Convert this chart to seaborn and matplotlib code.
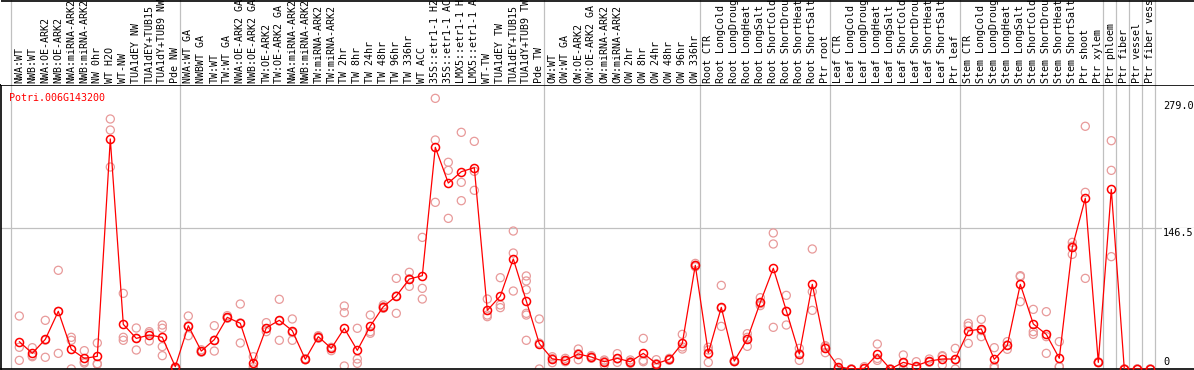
import matplotlib
matplotlib.use("Agg")
import matplotlib.pyplot as plt
import numpy as np
import pandas as pd
import seaborn as sns

# sample labels, in plot order
samples = [
    "NWA:WT", "NWB:WT", "NWA:OE-ARK2", "NWB:OE-ARK2", "NWA:miRNA-ARK2",
    "NWB:miRNA-ARK2", "NW 0hr", "WT H2O", "WT-NW", "TUA1dEY NW",
    "TUA1dEY+TUB15", "TUA1dY+TUB9 NW", "Pde NW",
    "NWA:WT GA", "NWBWT GA", "TW:WT", "TW:WT GA", "NWA:OE-ARK2 GA",
    "NWB:OE-ARK2 GA", "TW:OE-ARK2", "TW:OE-ARK2 GA", "NWA:miRNA-ARK2",
    "NWB:miRNA-ARK2", "TW:miRNA-ARK2", "TW:miRNA-ARK2", "TW 2hr", "TW 8hr",
    "TW 24hr", "TW 48hr", "TW 96hr", "TW 336hr", "WT ACC", "35S::etr1-1 H2",
    "35S::etr1-1 AC", "LMX5::etr1-1 H", "LMX5::etr1-1 A", "WT-TW",
    "TUA1dEY TW", "TUA1dEY+TUB15", "TUA1dY+TUB9 TW", "Pde TW",
    "OW:WT", "OW:WT GA", "OW:OE-ARK2", "OW:OE-ARK2 GA", "OW:miRNA-ARK2",
    "OW:miRNA-ARK2", "OW 2hr", "OW 8hr", "OW 24hr", "OW 48hr", "OW 96hr",
    "OW 336hr",
    "Root CTR", "Root LongCold", "Root LongDroug", "Root LongHeat",
    "Root LongSalt", "Root ShortCold", "Root ShortDrou", "Root ShortHeat",
    "Root ShortSalt", "Ptr root",
    "Leaf CTR", "Leaf LongCold", "Leaf LongDroug", "Leaf LongHeat",
    "Leaf LongSalt", "Leaf ShortCold", "Leaf ShortDrou", "Leaf ShortHeat",
    "Leaf ShortSalt", "Ptr leaf",
    "Stem CTR", "Stem LongCold", "Stem LongDroug", "Stem LongHeat",
    "Stem LongSalt", "Stem ShortCold", "Stem ShortDrou", "Stem ShortHeat",
    "Stem ShortSalt", "Ptr shoot", "Ptr xylem",
    "Ptr phloem", "Ptr fiber", "Ptr vessel", "Ptr fiber vess",
]

# group sizes (gray separators between groups)
group_sizes = [13, 28, 12, 10, 10, 11, 1, 1, 1, 1]

# mean expression
means = [
    28.5, 16.3, 30.9, 60.1, 20.5, 11.1, 13.2, 239.6, 46.5, 31.9, 35.4, 33.0, 2.4,
    45.1, 18.7, 30.6, 53.8, 47.6, 6.2, 43.0, 50.7, 39.9, 10.1, 33.7, 21.5, 42.4,
    19.4, 44.8, 64.9, 76.0, 93.7, 97.2, 230.9, 193.7, 205.5, 209.7, 61.1, 76.0,
    114.6, 70.8, 26.4,
    10.4, 9.0, 15.6, 12.5, 7.6, 11.1, 7.6, 16.3, 5.6, 10.1, 26.7, 108.0,
    16.7, 64.2, 8.3, 31.2, 69.4, 104.9, 60.8, 15.6, 88.2, 21.5,
    2.4, 0.0, 0.7, 15.3, 0.0, 6.9, 3.5, 8.3, 10.4, 10.4,
    39.6, 41.7, 10.1, 24.7, 88.2, 46.9, 36.1, 11.1, 126.7, 177.8, 6.9,
    187.1, 0.0, 0.0, 0.0,
]

# replicate values per sample
replicates = [
    [55.2, 22.6, 9.0], [22.2, 13.9, 12.8], [50.7, 12.2, 30.0], [102.8, 16.3, 60.0],
    [33.0, 29.9, 0.0], [19.1, 7.6, 6.2], [27.1, 5.6, 4.9], [260.4, 248.9, 210.4],
    [78.8, 33.0, 29.9], [42.7, 19.8, 32.0], [38.9, 29.2, 37.2],
    [45.8, 42.4, 23.3, 13.9], [2.0, 1.0, 0.0],
    [55.2, 34.7, 45.0], [20.0, 18.0, 17.5], [45.1, 18.7, 30.0], [55.6, 52.8, 53.5],
    [67.7, 27.1, 48.0], [12.8, 2.4, 0.0], [48.3, 38.9, 42.0], [72.6, 29.9, 50.0],
    [52.1, 29.9, 38.0], [10.1, 9.5, 10.8], [34.7, 32.0, 34.0], [22.6, 19.1, 22.0],
    [65.6, 58.7, 3.1], [42.4, 10.4, 5.9], [56.2, 38.9, 37.2], [64.9, 63.2, 66.7],
    [94.4, 58.0, 76.0], [100.7, 86.1, 94.0], [137.1, 84.0, 72.9],
    [281.9, 238.5, 173.6], [215.3, 206.9, 156.9], [246.5, 194.4, 175.3],
    [237.1, 186.1, 205.9], [72.9, 56.2, 54.5], [95.1, 66.7, 63.9],
    [143.7, 120.8, 81.2], [96.9, 91.7, 82.6, 58.0, 56.2, 29.9], [52.1, 0.0, 27.0],
    [12.8, 6.6, 11.0], [11.1, 7.6, 9.0], [20.8, 9.7, 16.0], [13.9, 11.1, 12.5],
    [9.4, 4.2, 8.0], [16.0, 6.9, 10.5], [9.4, 5.9, 7.6], [31.9, 9.0, 7.6],
    [9.7, 1.4, 5.6], [11.1, 9.0, 10.1], [36.1, 20.8, 23.0], [110.0, 106.5, 108.0],
    [22.6, 6.9, 19.8], [87.1, 63.2, 44.4], [8.3, 7.5, 9.0], [36.8, 23.6, 33.0],
    [74.3, 66.0, 68.0], [141.7, 130.2, 43.4], [76.7, 45.8, 60.0], [21.5, 9.0, 16.0],
    [125.0, 80.5, 61.1], [24.3, 17.0, 23.0],
    [6.6, 0.5, 0.0], [0.0, 0.0, 0.0], [2.4, 0.0, 0.0], [26.0, 9.0, 11.0],
    [0.0, 0.0, 0.0], [14.6, 0.0, 6.0], [7.6, 1.5, 1.5], [10.4, 7.0, 7.5],
    [13.9, 4.2, 13.0], [21.5, 0.0, 9.5],
    [47.6, 44.8, 26.7], [51.7, 33.7, 40.0], [22.2, 3.1, 1.0], [28.5, 20.5, 25.0],
    [97.2, 96.2, 70.1], [62.1, 38.9, 36.1], [59.7, 33.7, 16.3], [28.5, 2.4, 2.4],
    [131.9, 119.4, 128.0], [252.8, 184.0, 94.4], [7.5, 6.5, 6.9],
    [237.8, 206.9, 117.0], [0.0, 0.0, 0.0], [0.0, 0.0, 0.0], [0.0, 0.0, 0.0],
]

gene = "Potri.006G143200"
y_ticks = [279.0, 146.5, 0]

n = len(samples)
df_mean = pd.DataFrame({"pos": np.arange(n), "value": means})
df_rep = pd.DataFrame(
    [(i, v) for i, reps in enumerate(replicates) for v in reps],
    columns=["pos", "value"],
)

sns.set_style("white")
plt.rcParams["font.family"] = ["DejaVu Sans Mono"]

W, H = 1194, 370
fig = plt.figure(figsize=(W / 100, H / 100), dpi=100)
top_px = 85
ax = fig.add_axes([1 / W, 1 / H, (W - 1) / W, (H - 1 - top_px) / H])
hax = fig.add_axes([1 / W, (H - top_px) / H, (W - 1) / W, top_px / H], sharex=ax)

x0, step = 19.3, 13.0  # pixel of first column centre, column spacing
xlim = ((1 - x0) / step, (W - x0) / step)
ax.set_xlim(xlim)
ax.set_ylim(0, 295.8)

grey = "#c0c0c0"
bounds = np.concatenate([[0], np.cumsum(group_sizes)]) - 0.66
for b in bounds:
    ax.axvline(b, color=grey, lw=0.9, zorder=0)
    hax.axvline(b, color=grey, lw=0.9, zorder=0)
ax.axhline(146.5, color=grey, lw=0.9, zorder=0)

sns.scatterplot(data=df_rep, x="pos", y="value", ax=ax, marker="o",
                facecolor="none", edgecolor="#e89a9a", s=34, linewidth=0.9,
                zorder=2, legend=False)
sns.lineplot(data=df_mean, x="pos", y="value", ax=ax, color="red", lw=0.9,
             marker="o", markersize=5.8, markerfacecolor="none",
             markeredgecolor="red", markeredgewidth=1.1, sort=False,
             estimator=None, zorder=3, legend=False)

for t in y_ticks:
    va = "bottom" if t == 0 else "top"
    ax.text(n, t + (2 if t == 0 else 0), f"{t:.1f}" if t else "0",
            fontsize=7.4, va=va, ha="left", color="black",
            bbox=dict(facecolor="white", edgecolor="none", pad=0.6), zorder=4)

ax.text(8 / (W - 1), 1 - 8 / (H - 1 - top_px), gene, transform=ax.transAxes,
        color="red", fontsize=7.2, va="top", ha="left")

ax.set_xlabel("")
ax.set_ylabel("")
ax.set_xticks([])
ax.set_yticks([])
for side in ["left", "top", "bottom"]:
    ax.spines[side].set_color("black")
    ax.spines[side].set_linewidth(1.2)
ax.spines["right"].set_visible(False)

# header with rotated sample names
hax.set_ylim(0, top_px)
for i, s in enumerate(samples):
    hax.text(i, 2, s, rotation=90, ha="center", va="bottom", fontsize=7.2,
             color="black", clip_on=False)
hax.axhline(top_px - 0.5, color="black", lw=1.2)
hax.set_xticks([])
hax.set_yticks([])
for sp in hax.spines.values():
    sp.set_visible(False)

fig.savefig("out.png", dpi=100)
